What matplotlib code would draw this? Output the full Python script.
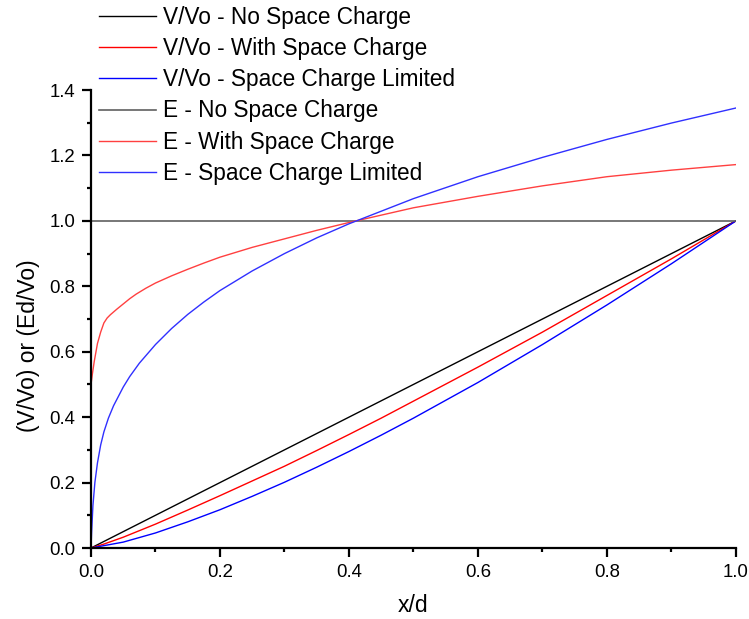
import matplotlib.pyplot as plt
from matplotlib.ticker import MultipleLocator, FormatStrFormatter

plt.rcParams["font.family"] = ["Liberation Sans", "DejaVu Sans"]

# potential curves (V/Vo)
x_v_nosc = [0.0, 1.0]
v_nosc = [0.0, 1.0]

x_v_sc = [0.0, 0.02, 0.05, 0.1, 0.15, 0.2, 0.25, 0.3, 0.35, 0.4, 0.45, 0.5, 0.6, 0.7, 0.8, 0.9, 1.0]
v_sc = [0.0, 0.012, 0.033, 0.073, 0.116, 0.16, 0.205, 0.25, 0.298, 0.347, 0.397, 0.449, 0.553, 0.66, 0.772, 0.884, 1.0]

x_v_scl = [0.0, 0.05, 0.1, 0.15, 0.2, 0.25, 0.3, 0.35, 0.4, 0.45, 0.5, 0.6, 0.7, 0.8, 0.9, 1.0]
v_scl = [0.0, 0.018, 0.046, 0.080, 0.117, 0.158, 0.201, 0.247, 0.295, 0.345, 0.397, 0.506, 0.622, 0.743, 0.869, 1.0]

# field curves (Ed/Vo)
x_e_nosc = [0.0, 1.0]
e_nosc = [1.0, 1.0]

x_e_sc = [0.0, 0.002, 0.005, 0.01, 0.015, 0.02, 0.025, 0.03, 0.04, 0.05, 0.06, 0.07, 0.085, 0.1,
          0.125, 0.15, 0.175, 0.2, 0.25, 0.3, 0.35, 0.4, 0.5, 0.6, 0.7, 0.8, 0.9, 1.0]
e_sc = [0.50, 0.53, 0.57, 0.625, 0.66, 0.688, 0.703, 0.713, 0.73, 0.746, 0.762, 0.776, 0.794, 0.81,
        0.832, 0.852, 0.871, 0.889, 0.919, 0.945, 0.971, 0.995, 1.04, 1.075, 1.107, 1.135, 1.155, 1.172]

x_e_scl = [0.0, 0.001, 0.003, 0.006, 0.01, 0.015, 0.02, 0.027, 0.035, 0.05, 0.06, 0.075, 0.1, 0.125,
           0.15, 0.175, 0.2, 0.25, 0.3, 0.35, 0.4, 0.5, 0.6, 0.7, 0.8, 0.9, 1.0]
e_scl = [0.0, 0.05, 0.13, 0.20, 0.26, 0.315, 0.355, 0.397, 0.435, 0.492, 0.524, 0.565, 0.622, 0.671,
         0.714, 0.752, 0.787, 0.847, 0.90, 0.948, 0.991, 1.068, 1.135, 1.194, 1.249, 1.299, 1.345]

fig = plt.figure(figsize=(7.49, 6.19), dpi=100)
ax = fig.add_axes([0.1215, 0.1147, 0.8611, 0.7399])

lw = 1.0
ax.plot(x_v_nosc, v_nosc, color="black", lw=lw, label="V/Vo - No Space Charge")
ax.plot(x_v_sc, v_sc, color="red", lw=lw, label="V/Vo - With Space Charge")
ax.plot(x_v_scl, v_scl, color="blue", lw=lw, label="V/Vo - Space Charge Limited")
ax.plot(x_e_nosc, e_nosc, color="#606060", lw=1.2, label="E - No Space Charge")
ax.plot(x_e_sc, e_sc, color="#ff4040", lw=lw, label="E - With Space Charge")
ax.plot(x_e_scl, e_scl, color="#3030ff", lw=lw, label="E - Space Charge Limited")

ax.set_xlim(0, 1.0)
ax.set_ylim(0, 1.4)
ax.xaxis.set_major_locator(MultipleLocator(0.2))
ax.xaxis.set_minor_locator(MultipleLocator(0.1))
ax.yaxis.set_major_locator(MultipleLocator(0.2))
ax.yaxis.set_minor_locator(MultipleLocator(0.1))
ax.xaxis.set_major_formatter(FormatStrFormatter("%.1f"))
ax.yaxis.set_major_formatter(FormatStrFormatter("%.1f"))

for side in ["top", "right"]:
    ax.spines[side].set_visible(False)
for side in ["left", "bottom"]:
    ax.spines[side].set_linewidth(1.6)
ax.tick_params(which="major", direction="out", length=6.2, width=1.6, labelsize=13.4, pad=5)
ax.tick_params(which="minor", direction="out", length=2.7, width=1.6)

ax.set_xlabel("x/d", fontsize=16.5)
ax.xaxis.set_label_coords(0.5, -0.1)
ax.set_ylabel("(V/Vo) or (Ed/Vo)", fontsize=16.5)
ax.yaxis.set_label_coords(-0.079, 0.442)

fig.legend(loc="upper left", bbox_to_anchor=(99 / 749, 1 - 6 / 619), frameon=False,
           fontsize=16.3, handlelength=2.5, handletextpad=0.32, labelspacing=0.36,
           borderpad=0, borderaxespad=0)

fig.savefig("out.png", dpi=100)
